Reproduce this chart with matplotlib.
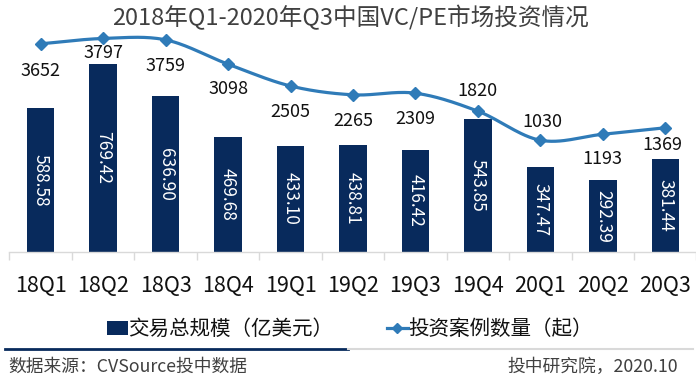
import numpy as np
import matplotlib
matplotlib.use("Agg")
from matplotlib import pyplot as plt
from matplotlib.lines import Line2D
from matplotlib.patches import Patch

plt.rcParams["font.family"] = ["Noto Sans CJK SC", "DejaVu Sans"]

# data
quarters = ["18Q1", "18Q2", "18Q3", "18Q4", "19Q1", "19Q2",
            "19Q3", "19Q4", "20Q1", "20Q2", "20Q3"]
deal_value = [588.58, 769.42, 636.90, 469.68, 433.10, 438.81,
              416.42, 543.85, 347.47, 292.39, 381.44]
deal_count = [3652, 3797, 3759, 3098, 2505, 2265,
              2309, 1820, 1030, 1193, 1369]

title = "2018年Q1-2020年Q3中国VC/PE市场投资情况"
bar_name = "交易总规模（亿美元）"
line_name = "投资案例数量（起）"
source_text = "数据来源：CVSource投中数据"
credit_text = "投中研究院，2020.10"

# label offsets for the line values, in pixels (dx, dy; dy positive = down)
count_label_offsets = [(0, 27), (0, 15), (0, 26), (0, 25), (0, 26), (0, 26),
                       (0, 26), (0, -20), (2, -18), (0, 25), (-3, 17)]

NAVY = "#082a5c"
BLUE = "#2f7bb8"
GRID = "#d9d9d9"
W, H = 696, 378
DPI = 100


def catmull_rom(xs, ys, steps=30):
    """Smooth curve through the points, like a spreadsheet smoothed line."""
    px = np.concatenate([[2 * xs[0] - xs[1]], xs, [2 * xs[-1] - xs[-2]]])
    py = np.concatenate([[2 * ys[0] - ys[1]], ys, [2 * ys[-1] - ys[-2]]])
    out_x, out_y = [], []
    t = np.linspace(0, 1, steps)
    for i in range(1, len(px) - 2):
        for p, out in ((px, out_x), (py, out_y)):
            p0, p1, p2, p3 = p[i - 1], p[i], p[i + 1], p[i + 2]
            seg = 0.5 * ((2 * p1) + (-p0 + p2) * t
                         + (2 * p0 - 5 * p1 + 4 * p2 - p3) * t ** 2
                         + (-p0 + 3 * p1 - 3 * p2 + p3) * t ** 3)
            out.extend(seg)
    return np.array(out_x), np.array(out_y)


fig = plt.figure(figsize=(W / DPI, H / DPI), dpi=DPI)
left, right, top, bottom = 9.5, 696.5, 31, 251.7
ax = fig.add_axes([left / W, 1 - bottom / H, (right - left) / W, (bottom - top) / H])
ax2 = ax.twinx()

x = np.arange(len(quarters))
bars = ax.bar(x, deal_value, width=0.44, color=NAVY, zorder=2)
for rect, v in zip(bars, deal_value):
    ax.text(rect.get_x() + rect.get_width() / 2, v / 2, f"{v:.2f}",
            rotation=-90, ha="center", va="center", color="white",
            fontsize=12.5, zorder=3)

ax.set_xlim(-0.5, len(quarters) - 0.5)
ax.set_ylim(0, 905)
ax.set_yticks([])
for side in ("top", "left", "right"):
    ax.spines[side].set_visible(False)
ax.spines["bottom"].set_color(GRID)
ax.spines["bottom"].set_linewidth(1)
ax.set_xticks(x)
ax.set_xticklabels(quarters, fontsize=15.5, color="#111111")
ax.tick_params(axis="x", which="major", length=0, pad=17)
ax.set_xticks(np.arange(-0.5, len(quarters), 1), minor=True)
ax.tick_params(axis="x", which="minor", length=6, color=GRID, width=1)

sx, sy = catmull_rom(x.astype(float), np.array(deal_count, dtype=float))
ax2.plot(sx, sy, color=BLUE, lw=2.3, solid_capstyle="round", zorder=4)
ax2.plot(x, deal_count, ls="none", marker="D", ms=6, color=BLUE, zorder=5)
ax2.set_ylim(-2000, 4000)
ax2.set_yticks([])
for side in ("top", "left", "right", "bottom"):
    ax2.spines[side].set_visible(False)

for xi, v, (dx, dy) in zip(x, deal_count, count_label_offsets):
    ax2.annotate(str(v), (xi, v), xytext=(dx * 0.72, -dy * 0.72),
                 textcoords="offset points", ha="center", va="center",
                 fontsize=13, color="#111111", zorder=6)

fig.text(350 / W, 1 - 18 / H, title, ha="center", va="center",
         fontsize=17, color="#404040")

handles = [Patch(facecolor=NAVY, edgecolor="none"),
           Line2D([], [], color=BLUE, lw=2.3, marker="D", ms=5)]
fig.legend(handles, [bar_name, line_name], loc="center",
           bbox_to_anchor=(350 / W, 1 - 329 / H), ncol=2, frameon=False,
           fontsize=14.8, handlelength=1.0, handletextpad=0.05,
           columnspacing=2.6, labelcolor="#111111")

rule_y = 1 - 349 / H
fig.add_artist(Line2D([5 / W, 348 / W], [rule_y, rule_y], color=NAVY, lw=2,
                      transform=fig.transFigure))
fig.add_artist(Line2D([348 / W, 693 / W], [rule_y, rule_y], color=GRID, lw=1.5,
                      transform=fig.transFigure))

fig.text(8 / W, 1 - 366.5 / H, source_text, ha="left", va="center",
         fontsize=12.8, color="#404040")
fig.text(678 / W, 1 - 366.5 / H, credit_text, ha="right", va="center",
         fontsize=12.8, color="#404040")

fig.savefig("out.png", dpi=DPI)
